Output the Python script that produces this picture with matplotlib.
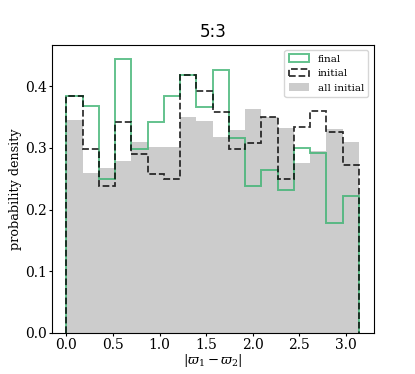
import numpy as np
import matplotlib
matplotlib.use("Agg")
import matplotlib.pyplot as plt

plt.rcParams['font.family'] = ['DejaVu Serif']
plt.rcParams['mathtext.fontset'] = 'dejavuserif'
plt.rcParams['xtick.major.size'] = 2.0
plt.rcParams['ytick.major.size'] = 2.0
plt.rcParams['xtick.major.pad'] = 1.8
plt.rcParams['ytick.major.pad'] = 1.8

n_bins = 18
edges = np.linspace(0, np.pi, n_bins + 1)
centers = 0.5 * (edges[:-1] + edges[1:])

final = [0.385, 0.368, 0.249, 0.445, 0.299, 0.342, 0.385, 0.419, 0.367,
         0.427, 0.316, 0.239, 0.265, 0.231, 0.300, 0.292, 0.179, 0.222]
initial = [0.385, 0.299, 0.239, 0.342, 0.291, 0.257, 0.249, 0.419, 0.393,
           0.359, 0.299, 0.308, 0.351, 0.249, 0.334, 0.360, 0.326, 0.273]
all_initial = [0.345, 0.259, 0.268, 0.279, 0.310, 0.301, 0.301, 0.351, 0.344,
               0.317, 0.329, 0.363, 0.350, 0.332, 0.276, 0.295, 0.331, 0.310]

fig = plt.figure(figsize=(4.15, 3.74), dpi=100)
ax = fig.add_subplot(111)

ax.hist(centers, bins=edges, weights=all_initial, color='0.8', label='all initial')
ax.hist(centers, bins=edges, weights=final, histtype='step', color='mediumseagreen',
        lw=1.4, alpha=0.8, label='final')
ax.hist(centers, bins=edges, weights=initial, histtype='step', color='k', ls='--',
        lw=1.3, alpha=0.8, label='initial')

handles, labels = ax.get_legend_handles_labels()
order = [labels.index(l) for l in ['final', 'initial', 'all initial']]
ax.legend([handles[i] for i in order], [labels[i] for i in order], loc='upper right',
          fontsize=7.5)

ax.set_xlabel(r'$|\varpi_1 - \varpi_2|$', fontsize=9.5, labelpad=0)
ax.set_ylabel('probability density', fontsize=9.2, labelpad=2)
ax.set_title('5:3', fontfamily='DejaVu Sans')

fig.savefig('out.png', dpi=100)
